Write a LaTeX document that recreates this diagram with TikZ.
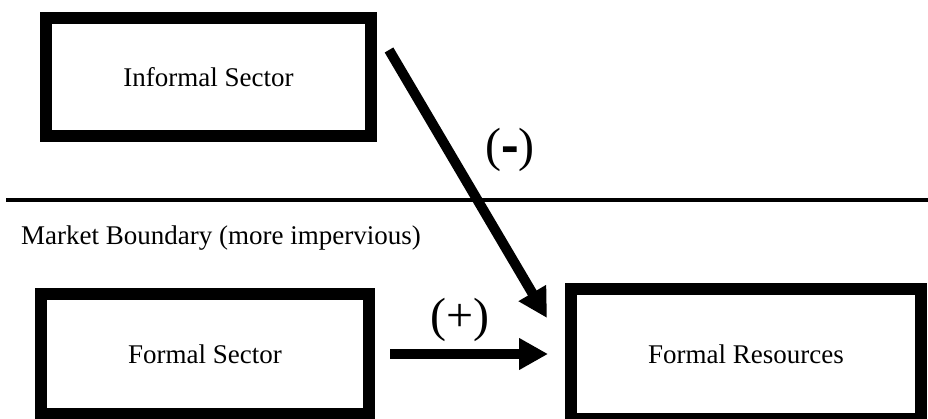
\documentclass[tikz,border=0pt]{standalone}
\usepackage{fontspec}
\setmainfont{Liberation Serif}
\usetikzlibrary{arrows.meta}
\begin{document}
\begin{tikzpicture}[x=1pt,y=-1pt,
  sectorbox/.style={draw, line width=12pt, rectangle, inner sep=0pt,
    font=\fontsize{27}{32}\selectfont},
  flow/.style={line width=10pt, -{Triangle[length=29pt,width=30pt]}},
  sign/.style={font=\fontsize{48}{56}\selectfont, inner sep=0pt}]
\useasboundingbox (0,0) rectangle (928,419);

% sector boxes
\node[sectorbox, minimum width=325pt, minimum height=118pt] (inf) at (208.5,77) {Informal Sector};
\node[sectorbox, minimum width=328pt, minimum height=120pt] (sec) at (205,354) {Formal Sector};
\node[sectorbox, minimum width=350pt, minimum height=130pt] (res) at (746,354) {Formal Resources};

% market boundary
\coordinate (bl) at (6,200);
\coordinate (br) at (928,200);
\draw[line width=3.5pt] (bl) -- (br);
\node[anchor=west, inner sep=0pt, font=\fontsize{27}{32}\selectfont] (mb) at (21,238)
  {Market Boundary (more impervious)};

% effects on formal resources
\coordinate (negstart) at (389,50);
\coordinate (negend) at (547,318);
\draw[flow] (negstart) -- (negend);
\draw[flow, shorten <=15pt, shorten >=17pt] (sec.east) -- (res.west);

\node[sign] (neg) at (510,150)
  {(\raisebox{-0.09em}{\scalebox{1.1}[1.4]{\textbf{-}}})};
\node[sign] (pos) at (460,320) {(+)};
\end{tikzpicture}
\end{document}
